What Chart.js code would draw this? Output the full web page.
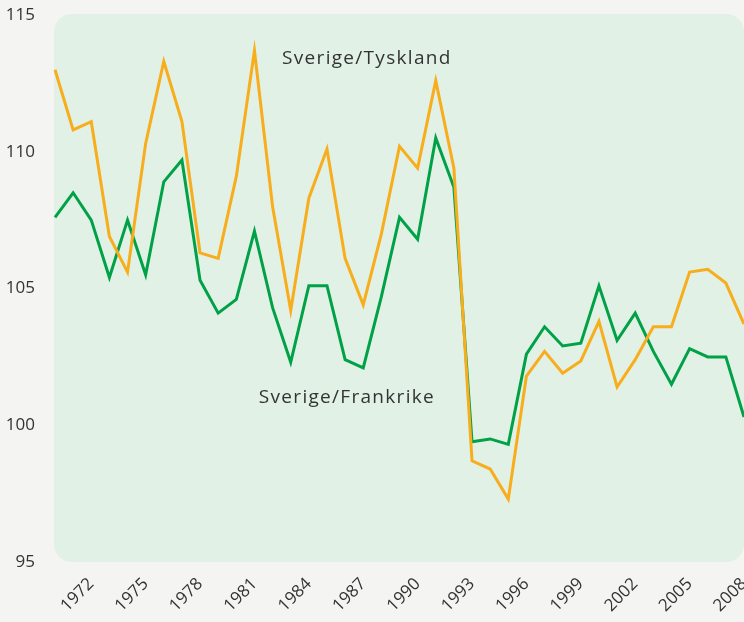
<!DOCTYPE html>
<html lang="sv">
<head>
<meta charset="UTF-8">
<title>Sverige/Tyskland och Sverige/Frankrike</title>
<style>
    html, body { margin: 0; padding: 0; background: #f4f4f2; }
    #wrap { width: 744px; height: 622px; }
</style>
</head>
<body>
<div id="wrap"><canvas id="chart"></canvas></div>
<script src="https://cdn.jsdelivr.net/npm/chart.js"></script>
<script>
// years 1970-2008
const years = [];
for (let y = 1970; y <= 2008; y++) years.push(String(y));

const tyskland = [113.0, 110.8, 111.1, 106.9, 105.6, 110.3, 113.3, 111.1, 106.3, 106.1,
                  109.1, 113.7, 108.0, 104.2, 108.3, 110.1, 106.1, 104.4, 107.0, 110.2,
                  109.4, 112.6, 109.4, 98.7, 98.4, 97.3, 101.8, 102.7, 101.9, 102.35,
                  103.8, 101.4, 102.4, 103.6, 103.6, 105.6, 105.7, 105.2, 103.7];

const frankrike = [107.6, 108.5, 107.5, 105.4, 107.5, 105.5, 108.9, 109.7, 105.3, 104.1,
                   104.6, 107.1, 104.3, 102.3, 105.1, 105.1, 102.4, 102.1, 104.7, 107.6,
                   106.8, 110.5, 108.7, 99.4, 99.5, 99.3, 102.6, 103.6, 102.9, 103.0,
                   105.1, 103.1, 104.1, 102.7, 101.5, 102.8, 102.5, 102.5, 100.3];

const yTicks = [95, 100, 105, 110, 115];

// text labels placed in data coordinates (year, value)
const seriesLabels = [
    { text: 'Sverige/Tyskland', year: '1987', dx: 0.2, value: 113.4 },
    { text: 'Sverige/Frankrike', year: '1986', dx: 0.1, value: 101.0 }
];

const FONT = '"Open Sans", sans-serif';
const TEXT = '#333333';

const panelBg = {
    id: 'panelBg',
    beforeDraw(chart) {
        const { ctx, chartArea: a } = chart;
        ctx.save();
        ctx.fillStyle = '#e1f1e5';
        ctx.beginPath();
        ctx.roundRect(a.left - 1, a.top - 1, a.right - a.left + 1, a.bottom - a.top + 1, 18);
        ctx.fill();
        ctx.restore();
    }
};

const lineLabels = {
    id: 'lineLabels',
    afterDatasetsDraw(chart) {
        const { ctx, scales } = chart;
        const step = scales.x.getPixelForValue(1) - scales.x.getPixelForValue(0);
        ctx.save();
        ctx.font = '19px ' + FONT;
        ctx.letterSpacing = '1.3px';
        ctx.fillStyle = TEXT;
        ctx.textAlign = 'center';
        ctx.textBaseline = 'middle';
        seriesLabels.forEach(l => {
            const x = scales.x.getPixelForValue(years.indexOf(l.year)) + l.dx * step;
            const y = scales.y.getPixelForValue(l.value);
            ctx.fillText(l.text, x, y);
        });
        ctx.restore();
    }
};

new Chart(document.getElementById('chart'), {
    type: 'line',
    data: {
        labels: years,
        datasets: [
            { label: 'Sverige/Tyskland', data: tyskland, borderColor: '#f8ad1c', borderWidth: 3, pointRadius: 0, tension: 0 },
            { label: 'Sverige/Frankrike', data: frankrike, borderColor: '#00a147', borderWidth: 3, pointRadius: 0, tension: 0 }
        ]
    },
    options: {
        responsive: true,
        maintainAspectRatio: false,
        animation: false,
        layout: { padding: 0 },
        plugins: {
            legend: { display: false },
            tooltip: { enabled: false }
        },
        scales: {
            x: {
                offset: false,
                grid: { display: false },
                border: { display: false },
                afterFit: s => { s.height = 60; s.paddingLeft = 0; s.paddingRight = 0; },
                ticks: {
                    autoSkip: false,
                    maxRotation: 45,
                    minRotation: 45,
                    padding: 4,
                    color: TEXT,
                    font: { family: FONT, size: 17 },
                    callback: function (v, i) {
                        const y = Number(years[i]);
                        return (y - 1972) % 3 === 0 ? years[i] : '';
                    }
                }
            },
            y: {
                min: 95,
                max: 115,
                grid: { display: false },
                border: { display: false },
                afterFit: s => { s.width = 55; s.paddingTop = 15; s.paddingBottom = 0; },
                afterBuildTicks: s => { s.ticks = yTicks.map(v => ({ value: v })); },
                ticks: {
                    padding: 12,
                    color: TEXT,
                    font: { family: FONT, size: 17 }
                }
            }
        }
    },
    plugins: [panelBg, lineLabels]
});
</script>
</body>
</html>
